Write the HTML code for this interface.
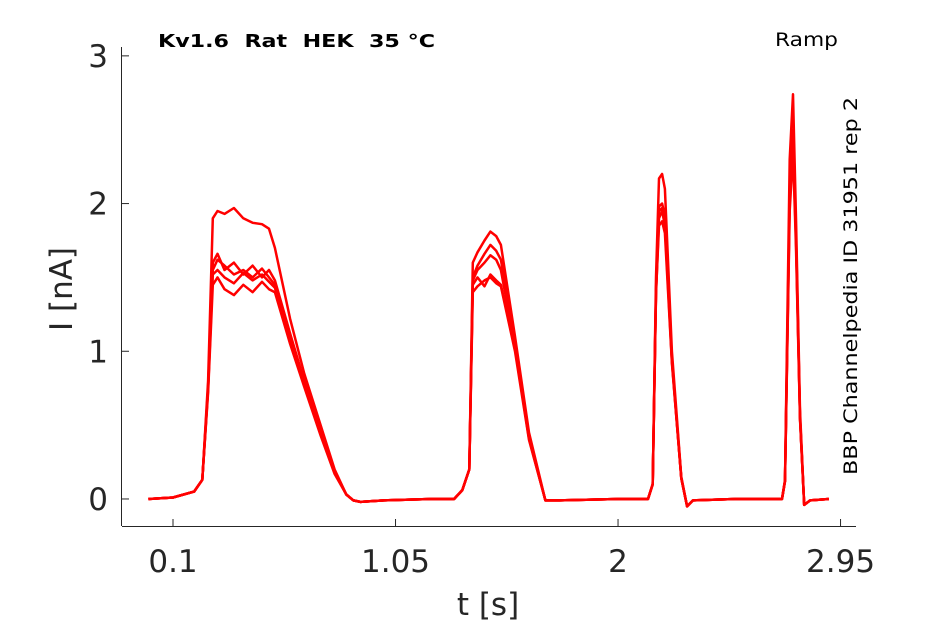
<!DOCTYPE html>
<html><head><meta charset="utf-8"><style>
body{margin:0;background:#fff;}
svg{display:block;font-family:"DejaVu Sans","Liberation Sans",sans-serif;}
</style></head><body>
<svg id="chart" width="945" height="624" viewBox="0 0 945 624" xmlns="http://www.w3.org/2000/svg">
<rect width="945" height="624" fill="#fff"/>
<g id="traces"></g>
<g id="axes"></g>
<text x="158" y="47" font-size="18" font-weight="bold" fill="#000" textLength="277" lengthAdjust="spacingAndGlyphs" xml:space="preserve">Kv1.6  Rat  HEK  35 °C</text>
<text x="775" y="46" font-size="19" fill="#000" textLength="63" lengthAdjust="spacingAndGlyphs">Ramp</text>
<text transform="translate(857,286) rotate(-90)" text-anchor="middle" font-size="19" fill="#000" textLength="378" lengthAdjust="spacingAndGlyphs">BBP Channelpedia ID 31951 rep 2</text>
<text x="488" y="615" text-anchor="middle" font-size="31" fill="#262626">t [s]</text>
<text transform="translate(72,289) rotate(-90)" text-anchor="middle" font-size="31" fill="#262626">I [nA]</text>
</svg>
<script>
const times=[-0.005,0.1,0.19,0.225,0.25,0.27,0.29,0.32,0.36,0.4,0.44,0.48,0.51,0.535,0.6,0.66,0.73,0.79,0.84,0.87,0.9,1.0,1.2,1.3,1.335,1.365,1.38,1.40,1.43,1.455,1.48,1.50,1.56,1.62,1.69,1.75,2.0,2.128,2.148,2.162,2.175,2.188,2.2,2.23,2.27,2.295,2.32,2.5,2.70,2.713,2.733,2.747,2.76,2.777,2.795,2.82,2.9];
const traceA=[0,0.01,0.05,0.13,0.8,1.9,1.95,1.93,1.97,1.9,1.87,1.86,1.83,1.7,1.22,0.85,0.5,0.2,0.03,-0.01,-0.02,-0.01,0,0,0.06,0.2,1.6,1.67,1.75,1.81,1.78,1.72,1.1,0.45,-0.01,-0.01,0,0,0.1,1.5,2.17,2.2,2.1,1.0,0.15,-0.05,-0.01,0,0,0.13,2.3,2.74,1.9,0.6,-0.04,-0.01,0];
const traceB=[0,0.01,0.05,0.13,0.75,1.55,1.62,1.58,1.52,1.55,1.5,1.56,1.5,1.45,1.1,0.78,0.45,0.18,0.03,-0.01,-0.02,-0.01,0,0,0.06,0.2,1.5,1.58,1.66,1.72,1.68,1.62,1.05,0.42,-0.01,-0.01,0,0,0.1,1.4,1.98,2.0,1.92,0.95,0.14,-0.05,-0.01,0,0,0.12,2.1,2.5,1.8,0.55,-0.04,-0.01,0];
const traceC=[0,0.01,0.05,0.13,0.72,1.45,1.5,1.42,1.38,1.45,1.4,1.47,1.42,1.4,1.05,0.76,0.43,0.17,0.03,-0.01,-0.02,-0.01,0,0,0.06,0.2,1.4,1.44,1.48,1.5,1.46,1.44,1.0,0.4,-0.01,-0.01,0,0,0.1,1.38,1.9,1.95,1.85,0.93,0.14,-0.05,-0.01,0,0,0.12,2.0,2.4,1.75,0.55,-0.04,-0.01,0];
const traceD=[0,0.01,0.05,0.13,0.76,1.6,1.66,1.55,1.6,1.52,1.58,1.5,1.55,1.48,1.12,0.8,0.46,0.19,0.03,-0.01,-0.02,-0.01,0,0,0.06,0.2,1.45,1.5,1.44,1.52,1.48,1.45,1.02,0.41,-0.01,-0.01,0,0,0.1,1.42,1.95,1.97,1.88,0.94,0.14,-0.05,-0.01,0,0,0.12,2.05,2.45,1.78,0.56,-0.04,-0.01,0];
const traceE=[0,0.01,0.05,0.13,0.74,1.52,1.55,1.5,1.46,1.53,1.48,1.52,1.47,1.43,1.08,0.77,0.44,0.18,0.03,-0.01,-0.02,-0.01,0,0,0.06,0.2,1.48,1.55,1.6,1.65,1.62,1.55,1.03,0.41,-0.01,-0.01,0,0,0.1,1.4,1.85,1.88,1.8,0.92,0.14,-0.05,-0.01,0,0,0.12,1.95,2.35,1.7,0.54,-0.04,-0.01,0];
const xTicks=[0.1,1.05,2,2.95];
const xTickLabels=["0.1","1.05","2","2.95"];
const yTicks=[0,1,2,3];
const yTickLabels=["0","1","2","3"];
const traces=[traceA,traceB,traceC,traceD,traceE];

const X0=122,X1=856,Y0=526,Y1=47;
const xMin=-0.1178,xMax=3.016,yMin=-0.183,yMax=3.06;
function xs(t){return X0+(t-xMin)/(xMax-xMin)*(X1-X0);}
function ys(v){return Y0-(v-yMin)/(yMax-yMin)*(Y0-Y1);}
const NS="http://www.w3.org/2000/svg";
const tg=document.getElementById('traces');
traces.forEach((tr,k)=>{
  const p=document.createElementNS(NS,'polyline');
  
  
  p.setAttribute('points',tr.map((v,i)=>xs(times[i]).toFixed(1)+','+ys(v).toFixed(1)).join(' '));
  p.setAttribute('fill','none');p.setAttribute('stroke','#ff0000');
  p.setAttribute('stroke-width','2.5');p.setAttribute('stroke-linejoin','round');
  tg.appendChild(p);
});
const ag=document.getElementById('axes');
function line(x1,y1,x2,y2,name){
  const l=document.createElementNS(NS,'line');
  
  
  l.setAttribute('x1',x1);l.setAttribute('y1',y1);l.setAttribute('x2',x2);l.setAttribute('y2',y2);
  l.setAttribute('stroke','#262626');l.setAttribute('stroke-width','1');
  ag.appendChild(l);
}
function txt(x,y,s,anchor,name){
  const t=document.createElementNS(NS,'text');
  
  
  t.setAttribute('x',x);t.setAttribute('y',y);t.setAttribute('text-anchor',anchor);
  t.setAttribute('font-size','31');t.setAttribute('fill','#262626');
  t.textContent=s;ag.appendChild(t);
}
line(X0,Y0+0.5,X1,Y0+0.5,'x-axis-line');
line(X0-0.5,Y0,X0-0.5,Y1,'y-axis-line');
xTicks.forEach((t,i)=>{
  const x=xs(t);
  line(x,Y0,x,Y0-7,'x-tick');
  txt(x,Y0+46,xTickLabels[i],'middle','x-tick-label');
});
yTicks.forEach((v,i)=>{
  const y=ys(v);
  line(X0,y,X0+7,y,'y-tick');
  txt(X0-14,y+11,yTickLabels[i],'end','y-tick-label');
});
</script>
</body></html>
